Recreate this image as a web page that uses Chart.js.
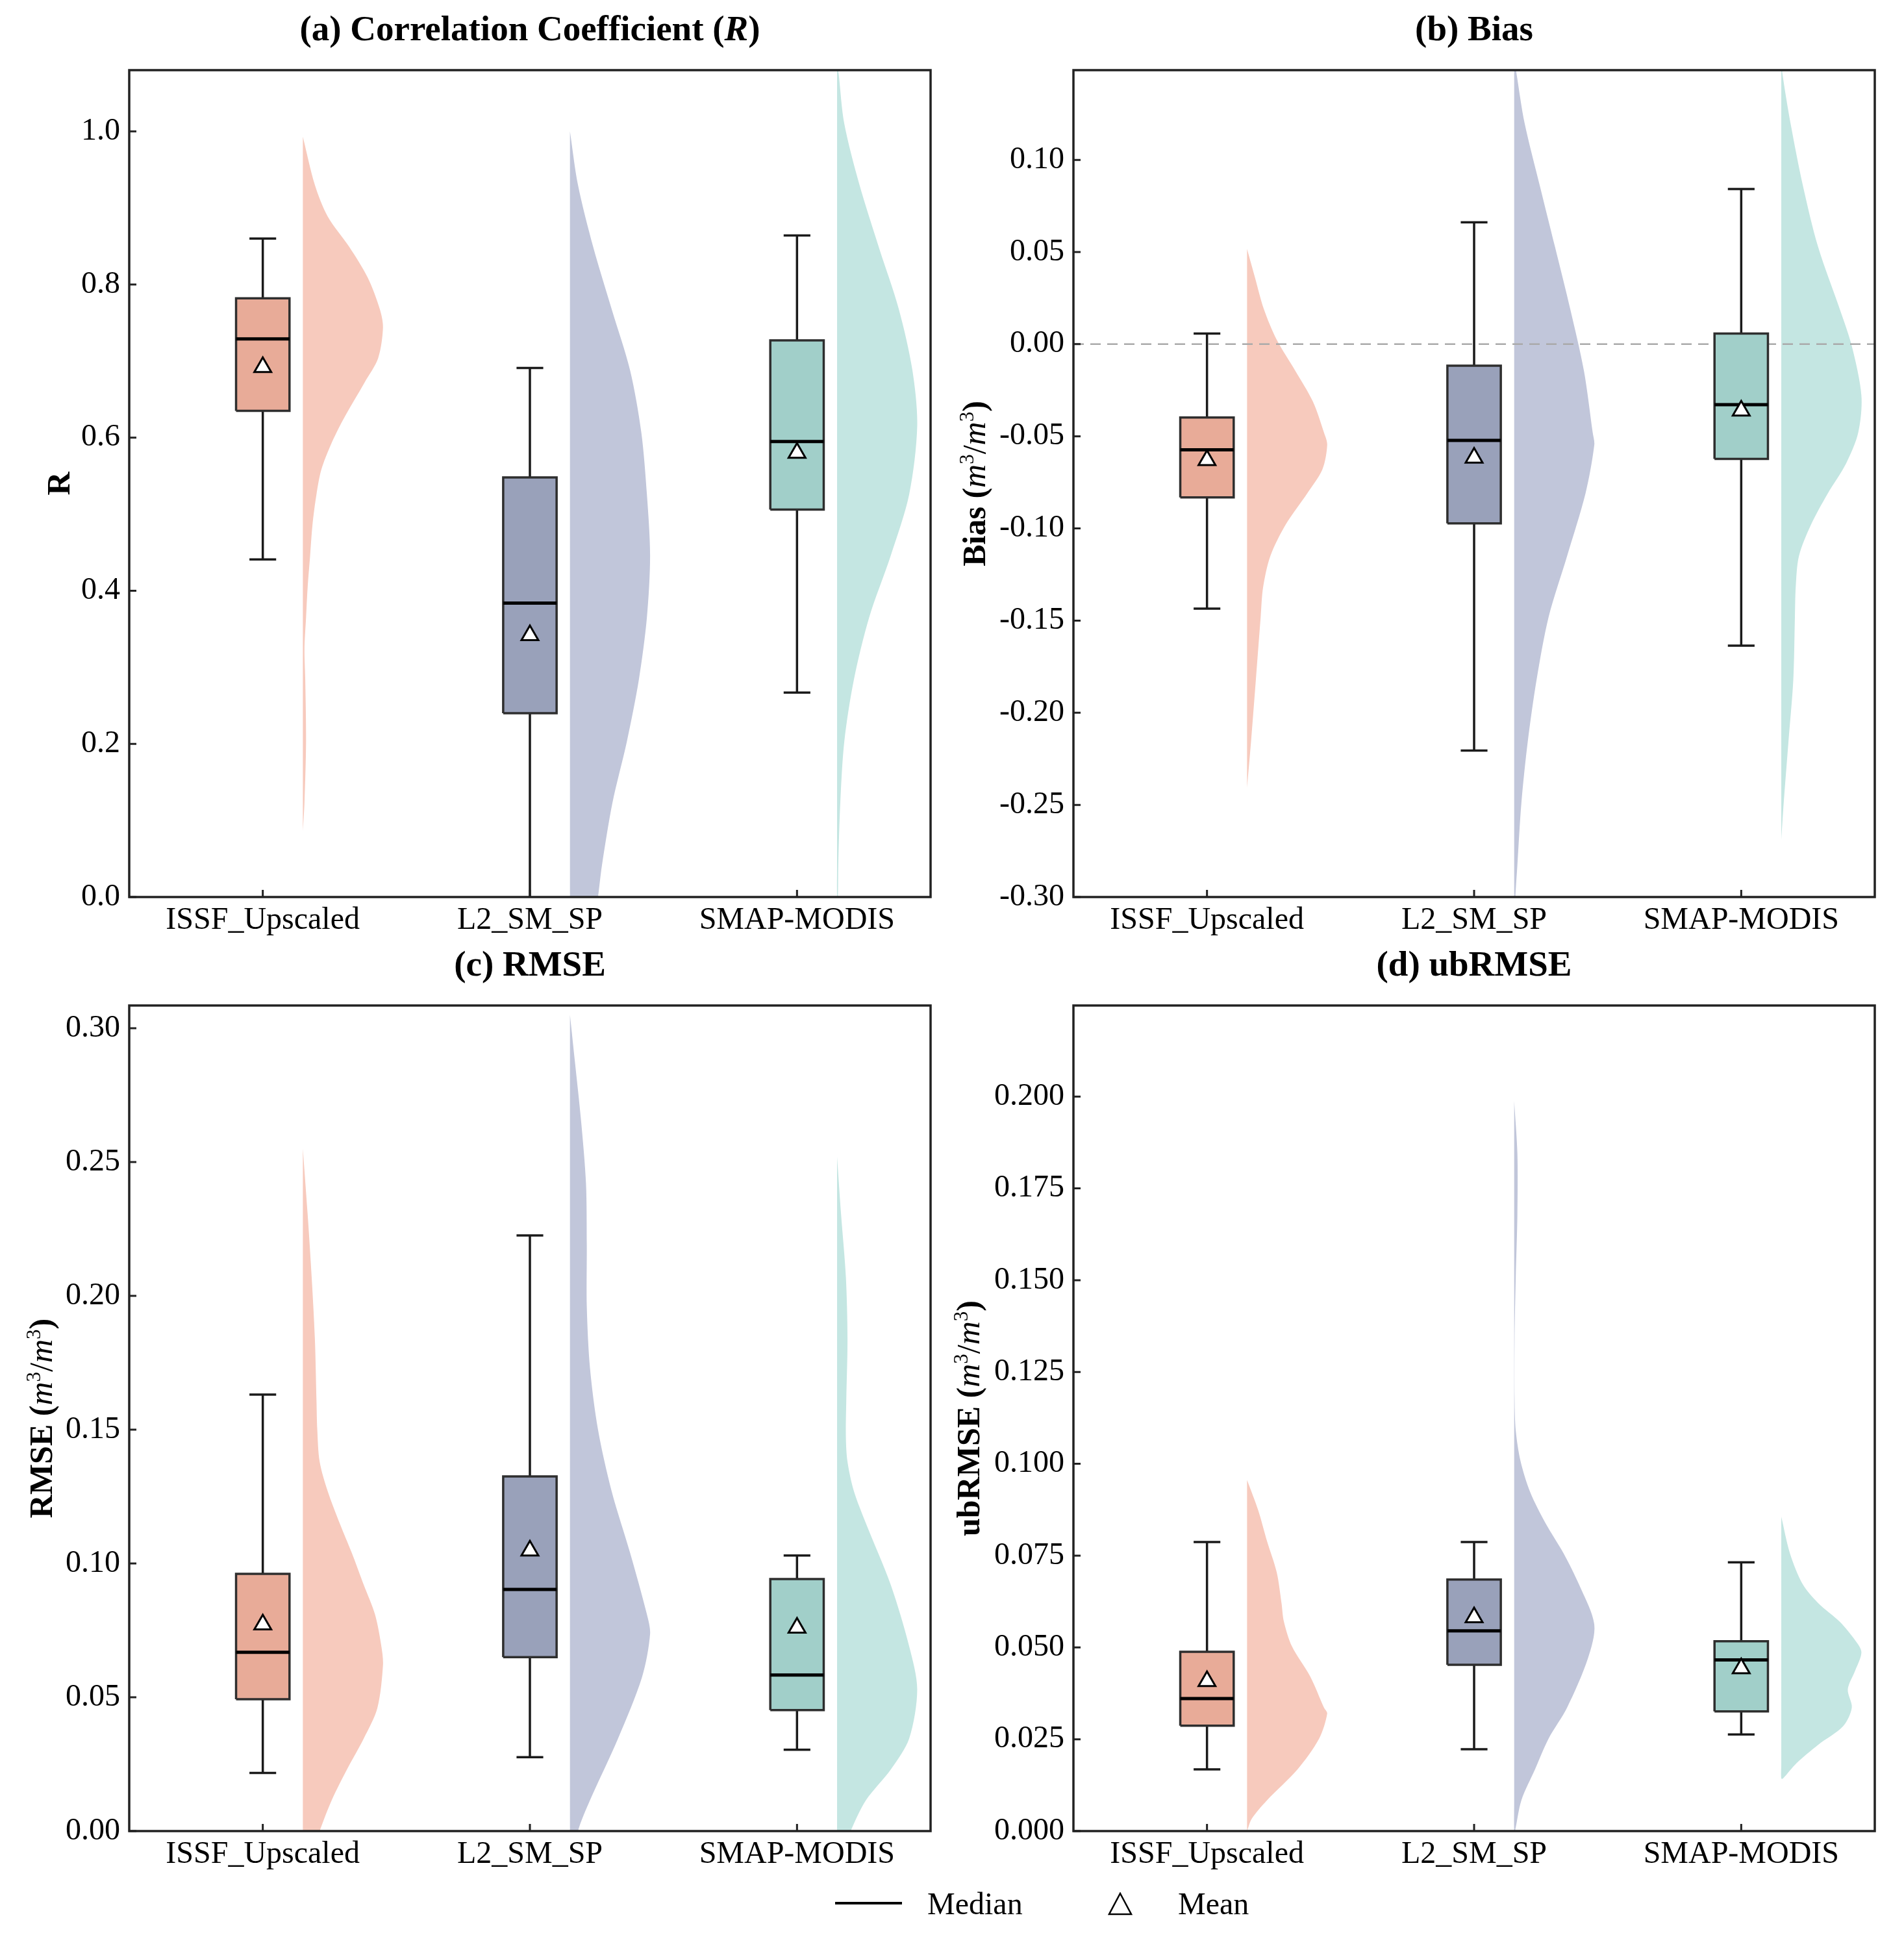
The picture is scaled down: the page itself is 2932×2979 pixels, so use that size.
<!DOCTYPE html>
<html>
<head>
<meta charset="utf-8">
<title>SMAP products evaluation</title>
<script src="https://cdn.jsdelivr.net/npm/chart.js@4.4.1/dist/chart.umd.min.js"></script>
<style>
  html, body { margin: 0; padding: 0; background: #fff; }
  #page { position: relative; width: 2932px; height: 2979px; background: #fff; overflow: hidden;
          font-family: "Liberation Serif", "Times New Roman", serif; }
  .panel { position: absolute; width: 1466px; }
  .top { top: 0; height: 1490px; }
  .bottom { top: 1440px; height: 1539px; }
  .panel canvas { display: block; }
  .lg { position: absolute; font-size: 48px; line-height: 48px; color: #000; white-space: nowrap; }
  #lgLine { position: absolute; left: 1286px; top: 2928px; width: 103px; height: 4px; background: #000; }
  #lgTri { position: absolute; left: 1706px; top: 2913px; }
</style>
</head>
<body>
<div id="page">
  <div class="panel top" style="left:0"><canvas id="cA" width="1466" height="1490"></canvas></div>
  <div class="panel top" style="left:1466px"><canvas id="cB" width="1466" height="1490"></canvas></div>
  <div class="panel bottom" style="left:0"><canvas id="cC" width="1466" height="1539"></canvas></div>
  <div class="panel bottom" style="left:1466px"><canvas id="cD" width="1466" height="1539"></canvas></div>

  <div id="lgLine"></div>
  <div class="lg" id="lgMedian" style="left:1428px;top:2907px"></div>
  <svg id="lgTri" width="38" height="36" viewBox="0 0 38 36">
    <polygon points="19,2 36,34 2,34" fill="#fff" stroke="#000" stroke-width="2.5"/>
  </svg>
  <div class="lg" id="lgMean" style="left:1814px;top:2907px"></div>
</div>

<script>
// ======================
// DATA
// ======================

const categories = ["ISSF_Upscaled", "L2_SM_SP", "SMAP-MODIS"];
const legendLabels = ["Median", "Mean"];

// box stats: [lower whisker, Q1, median, Q3, upper whisker]
const rBox = [
  [0.441, 0.635, 0.729, 0.782, 0.860],
  [-0.05, 0.240, 0.384, 0.548, 0.691],
  [0.267, 0.506, 0.595, 0.727, 0.864]
];
const rMean = [0.692, 0.342, 0.580];

const biasBox = [
  [-0.1435, -0.0831, -0.0573, -0.0398, 0.0058],
  [-0.2205, -0.0972, -0.0522, -0.0117, 0.0661],
  [-0.1636, -0.0623, -0.0328, 0.0058, 0.0842]
];
const biasMean = [-0.0630, -0.0616, -0.0361];

const rmseBox = [
  [0.0217, 0.0493, 0.0668, 0.0961, 0.1631],
  [0.0276, 0.0650, 0.0903, 0.1325, 0.2226],
  [0.0304, 0.0452, 0.0583, 0.0942, 0.1030]
];
const rmseMean = [0.0772, 0.1048, 0.0760];

const ubrmseBox = [
  [0.0168, 0.0287, 0.0361, 0.0488, 0.0787],
  [0.0223, 0.0453, 0.0545, 0.0685, 0.0787],
  [0.0263, 0.0326, 0.0466, 0.0517, 0.0732]
];
const ubrmseMean = [0.0408, 0.0582, 0.0443];

// half-violin outlines: value levels and relative density (0..1)
const rViolinY = [
  [0.993, 0.93, 0.889, 0.849, 0.809, 0.768, 0.744, 0.704, 0.672, 0.623, 0.591, 0.558, 0.526, 0.486, 0.445, 0.405, 0.365, 0.324, 0.284, 0.203, 0.123, 0.086],
  [1.0, 0.93, 0.849, 0.768, 0.688, 0.607, 0.526, 0.446, 0.365, 0.284, 0.203, 0.123, 0.042, 0.0, -0.05],
  [1.09, 1.075, 1.01, 0.93, 0.849, 0.768, 0.688, 0.615, 0.526, 0.446, 0.365, 0.284, 0.203, 0.123, 0.042, 0.0]
];
const rViolinD = [
  [0, 0.15, 0.31, 0.58, 0.81, 0.96, 1.0, 0.94, 0.77, 0.50, 0.35, 0.23, 0.17, 0.12, 0.09, 0.06, 0.04, 0.02, 0.03, 0.04, 0.02, 0],
  [0, 0.10, 0.29, 0.52, 0.75, 0.89, 0.96, 1.0, 0.96, 0.86, 0.71, 0.53, 0.40, 0.35, 0.28],
  [0, 0.02, 0.09, 0.28, 0.52, 0.77, 0.94, 1.0, 0.90, 0.67, 0.40, 0.21, 0.09, 0.04, 0.015, 0.01]
];

const biasViolinY = [
  [0.0517, 0.036, 0.019, 0.0024, -0.0143, -0.031, -0.048, -0.0546, -0.068, -0.081, -0.098, -0.115, -0.132, -0.148, -0.182, -0.2155, -0.2407],
  [0.155, 0.1466, 0.12, 0.086, 0.0527, 0.019, -0.0143, -0.048, -0.0546, -0.081, -0.115, -0.148, -0.182, -0.2155, -0.249, -0.2826, -0.30, -0.31],
  [0.155, 0.1466, 0.12, 0.086, 0.0527, 0.019, -0.001, -0.028, -0.048, -0.0646, -0.081, -0.098, -0.115, -0.132, -0.148, -0.182, -0.2155, -0.249, -0.269]
];
const biasViolinD = [
  [0, 0.10, 0.21, 0.37, 0.60, 0.82, 0.96, 1.0, 0.94, 0.75, 0.48, 0.29, 0.20, 0.17, 0.11, 0.05, 0],
  [0, 0.03, 0.13, 0.32, 0.51, 0.70, 0.87, 0.98, 1.0, 0.89, 0.66, 0.43, 0.28, 0.17, 0.09, 0.04, 0.015, 0.01],
  [0, 0.015, 0.115, 0.27, 0.46, 0.73, 0.88, 1.0, 0.96, 0.81, 0.58, 0.37, 0.22, 0.18, 0.17, 0.15, 0.09, 0.03, 0]
];

const rmseViolinY = [
  [0.255, 0.2304, 0.207, 0.184, 0.161, 0.150, 0.138, 0.127, 0.115, 0.104, 0.092, 0.081, 0.069, 0.062, 0.046, 0.0346, 0.023, 0.0115, 0, -0.01],
  [0.305, 0.288, 0.265, 0.242, 0.219, 0.196, 0.173, 0.150, 0.127, 0.104, 0.081, 0.0737, 0.0576, 0.0346, 0.0115, 0, -0.01],
  [0.252, 0.2304, 0.207, 0.184, 0.161, 0.147, 0.138, 0.127, 0.115, 0.092, 0.069, 0.053, 0.0346, 0.023, 0.0115, 0, -0.01]
];
const rmseViolinD = [
  [0, 0.06, 0.11, 0.15, 0.17, 0.18, 0.21, 0.31, 0.46, 0.61, 0.76, 0.90, 0.98, 1.0, 0.93, 0.76, 0.55, 0.36, 0.21, 0.10],
  [0, 0.06, 0.14, 0.20, 0.21, 0.21, 0.25, 0.35, 0.52, 0.75, 0.96, 1.0, 0.90, 0.60, 0.25, 0.10, 0.05],
  [0, 0.05, 0.11, 0.13, 0.115, 0.11, 0.13, 0.21, 0.36, 0.67, 0.90, 1.0, 0.90, 0.67, 0.36, 0.17, 0.05]
];

const ubrmseViolinY = [
  [0.0956, 0.0873, 0.0789, 0.0705, 0.0621, 0.057, 0.0503, 0.042, 0.0336, 0.032, 0.0252, 0.0168, 0.0084, 0.0034, 0],
  [0.1988, 0.1846, 0.1678, 0.151, 0.134, 0.1175, 0.109, 0.1007, 0.0923, 0.0839, 0.0755, 0.0671, 0.0562, 0.047, 0.0336, 0.0252, 0.0168, 0.0084, 0],
  [0.0856, 0.0755, 0.0671, 0.0621, 0.057, 0.052, 0.0487, 0.0436, 0.0386, 0.0336, 0.0285, 0.0235, 0.0185, 0.0143]
];
const ubrmseViolinD = [
  [0, 0.14, 0.25, 0.37, 0.43, 0.46, 0.56, 0.79, 0.96, 1.0, 0.90, 0.63, 0.25, 0.06, 0],
  [0, 0.04, 0.04, 0.02, 0.005, 0.005, 0.02, 0.08, 0.20, 0.39, 0.62, 0.81, 1.0, 0.92, 0.66, 0.43, 0.26, 0.09, 0.01],
  [0, 0.11, 0.27, 0.46, 0.73, 0.92, 1.0, 0.92, 0.83, 0.88, 0.77, 0.46, 0.19, 0.02]
];

// tick labels of the y axes
const rTicks = ["0.0", "0.2", "0.4", "0.6", "0.8", "1.0"];
const biasTicks = ["-0.30", "-0.25", "-0.20", "-0.15", "-0.10", "-0.05", "0.00", "0.05", "0.10"];
const rmseTicks = ["0.00", "0.05", "0.10", "0.15", "0.20", "0.25", "0.30"];
const ubrmseTicks = ["0.000", "0.025", "0.050", "0.075", "0.100", "0.125", "0.150", "0.175", "0.200"];

// ======================
// STYLE
// ======================

const boxColors = ["#E8AB98", "#99A1BA", "#A1CFC9"];
const violinColors = ["#F7CABD", "#C1C6DA", "#C4E6E2"];
const FONT = '"Liberation Serif", "Times New Roman", serif';
const BOX_HALF = 0.1;
const CAP_HALF = 0.05;
const VIOLIN_OFF = 0.15;
const VIOLIN_W = 0.3;

Chart.defaults.font.family = FONT;
Chart.defaults.font.size = 48;
Chart.defaults.color = "#000";

// ======================
// HELPERS
// ======================

function drawRich(ctx, segs, x, y, size) {
  const parts = segs.map(s => {
    const fs = s.sup ? size * 0.62 : size;
    const font = (s.i ? "italic " : "") + (s.b ? "bold " : "") + fs + "px " + FONT;
    ctx.font = font;
    return { s, font, w: ctx.measureText(s.t).width };
  });
  const total = parts.reduce((a, p) => a + p.w, 0);
  let cx = x - total / 2;
  ctx.textAlign = "left";
  ctx.textBaseline = "alphabetic";
  ctx.fillStyle = "#000";
  parts.forEach(p => {
    ctx.font = p.font;
    ctx.fillText(p.s.t, cx, y - (p.s.sup ? size * 0.36 : 0));
    cx += p.w;
  });
}

const decorPlugin = {
  id: "decor",
  afterDraw(chart, args, opts) {
    const ctx = chart.ctx;
    const a = chart.chartArea;
    ctx.save();

    // frame
    ctx.strokeStyle = "#222";
    ctx.lineWidth = 3.5;
    ctx.strokeRect(a.left, a.top, a.right - a.left, a.bottom - a.top);

    // inward ticks
    ctx.lineWidth = 3;
    ctx.beginPath();
    chart.scales.y.ticks.forEach(t => {
      const py = chart.scales.y.getPixelForValue(t.value);
      ctx.moveTo(a.left, py);
      ctx.lineTo(a.left + 11, py);
    });
    chart.scales.x.ticks.forEach(t => {
      const px = chart.scales.x.getPixelForValue(t.value);
      ctx.moveTo(px, a.bottom);
      ctx.lineTo(px, a.bottom - 11);
    });
    ctx.stroke();

    // title
    drawRich(ctx, opts.title, (a.left + a.right) / 2, a.top - 46, 55);

    // y label
    ctx.translate(a.left - opts.yOff, (a.top + a.bottom) / 2);
    ctx.rotate(-Math.PI / 2);
    drawRich(ctx, opts.ylabel, 0, 0, 50);
    ctx.restore();
  }
};

function buildDatasets(box, mean, vy, vd, zeroLine) {
  const ds = [];
  for (let i = 0; i < categories.length; i++) {
    // half violin: curved outer edge, straight inner edge
    const pts = vy[i].map((y, k) => ({ x: i + VIOLIN_OFF + VIOLIN_W * vd[i][k], y }));
    for (let k = vy[i].length - 1; k >= 0; k--) {
      pts.push({ x: i + VIOLIN_OFF, y: vy[i][k] });
    }
    ds.push({ data: pts, fill: "shape", backgroundColor: violinColors[i], tension: 0.3,
              borderWidth: 0, pointRadius: 0, order: 10 });

    const [lo, q1, med, q3, hi] = box[i];

    // whiskers and caps
    ds.push({
      data: [
        { x: i, y: q3 }, { x: i, y: hi }, { x: i, y: null },
        { x: i - CAP_HALF, y: hi }, { x: i + CAP_HALF, y: hi }, { x: i, y: null },
        { x: i, y: q1 }, { x: i, y: lo }, { x: i, y: null },
        { x: i - CAP_HALF, y: lo }, { x: i + CAP_HALF, y: lo }
      ],
      borderColor: "#1a1a1a", borderWidth: 3.5, pointRadius: 0, fill: false, order: 6
    });

    // box
    ds.push({
      data: [
        { x: i - BOX_HALF, y: q1 }, { x: i + BOX_HALF, y: q1 },
        { x: i + BOX_HALF, y: q3 }, { x: i - BOX_HALF, y: q3 },
        { x: i - BOX_HALF, y: q1 }
      ],
      fill: "shape", backgroundColor: boxColors[i], borderColor: "#2e2e2e",
      borderWidth: 3.5, pointRadius: 0, order: 4
    });

    // median
    ds.push({
      data: [{ x: i - BOX_HALF, y: med }, { x: i + BOX_HALF, y: med }],
      borderColor: "#000", borderWidth: 5, pointRadius: 0, fill: false, order: 2
    });

    // mean
    ds.push({
      data: [{ x: i, y: mean[i] }],
      showLine: false, pointStyle: "triangle", pointRadius: 15,
      pointBackgroundColor: "#fff", pointBorderColor: "#000", pointBorderWidth: 3, order: 0
    });
  }
  if (zeroLine) {
    ds.push({
      data: [{ x: -0.5, y: 0 }, { x: 2.5, y: 0 }],
      borderColor: "#aaaaaa", borderWidth: 2.5, borderDash: [16, 10],
      pointRadius: 0, fill: false, order: 8
    });
  }
  return ds;
}

function makePanel(id, p) {
  const tickVals = p.ticks.map(Number);
  new Chart(document.getElementById(id), {
    type: "line",
    data: { datasets: buildDatasets(p.box, p.mean, p.vy, p.vd, p.zeroLine) },
    options: {
      responsive: false,
      animation: false,
      devicePixelRatio: 1,
      layout: { padding: { left: 0, right: p.padRight, top: 108, bottom: 0 } },
      plugins: {
        legend: { display: false },
        tooltip: { enabled: false },
        title: { display: false },
        decor: { title: p.title, ylabel: p.ylabel, yOff: p.yOff }
      },
      scales: {
        x: {
          type: "linear", min: -0.5, max: 2.5,
          grid: { display: false, drawTicks: false },
          border: { display: false },
          afterBuildTicks: s => { s.ticks = categories.map((c, i) => ({ value: i })); },
          afterFit: s => { s.height = p.xHeight; },
          ticks: { padding: 8, maxRotation: 0, autoSkip: false,
                   callback: (v, i) => categories[i] }
        },
        y: {
          type: "linear", min: p.min, max: p.max,
          grid: { display: false, drawTicks: false },
          border: { display: false },
          afterBuildTicks: s => { s.ticks = tickVals.map(v => ({ value: v })); },
          afterFit: s => { s.width = p.yWidth; },
          ticks: { padding: 14, autoSkip: false, callback: (v, i) => p.ticks[i] }
        }
      }
    },
    plugins: [decorPlugin]
  });
}

// ======================
// PANELS
// ======================

const unit = [
  { t: "(", b: true }, { t: "m", i: true }, { t: "3", sup: true }, { t: "/" },
  { t: "m", i: true }, { t: "3", sup: true }, { t: ")", b: true }
];

makePanel("cA", {
  box: rBox, mean: rMean, vy: rViolinY, vd: rViolinD, ticks: rTicks,
  min: 0, max: 1.08, padRight: 33, yWidth: 199, xHeight: 109, yOff: 92,
  title: [{ t: "(a) Correlation Coefficient (", b: true }, { t: "R", b: true, i: true }, { t: ")", b: true }],
  ylabel: [{ t: "R", b: true }]
});

makePanel("cB", {
  box: biasBox, mean: biasMean, vy: biasViolinY, vd: biasViolinD, ticks: biasTicks, zeroLine: true,
  min: -0.30, max: 0.1487, padRight: 45, yWidth: 187, xHeight: 109, yOff: 136,
  title: [{ t: "(b) Bias", b: true }],
  ylabel: [{ t: "Bias ", b: true }].concat(unit)
});

makePanel("cC", {
  box: rmseBox, mean: rmseMean, vy: rmseViolinY, vd: rmseViolinD, ticks: rmseTicks,
  min: 0, max: 0.3085, padRight: 33, yWidth: 199, xHeight: 160, yOff: 119,
  title: [{ t: "(c) RMSE", b: true }],
  ylabel: [{ t: "RMSE ", b: true }].concat(unit)
});

makePanel("cD", {
  box: ubrmseBox, mean: ubrmseMean, vy: ubrmseViolinY, vd: ubrmseViolinD, ticks: ubrmseTicks,
  min: 0, max: 0.2248, padRight: 45, yWidth: 187, xHeight: 160, yOff: 145,
  title: [{ t: "(d) ubRMSE", b: true }],
  ylabel: [{ t: "ubRMSE ", b: true }].concat(unit)
});

document.getElementById("lgMedian").textContent = legendLabels[0];
document.getElementById("lgMean").textContent = legendLabels[1];
</script>
</body>
</html>
